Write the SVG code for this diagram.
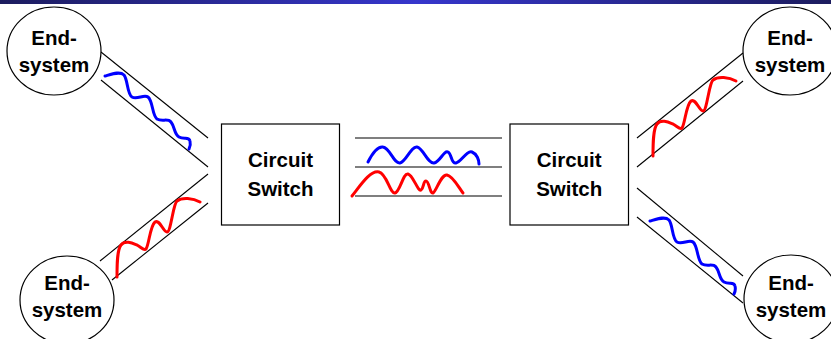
<svg xmlns="http://www.w3.org/2000/svg" width="831" height="339" viewBox="0 0 831 339">
  <defs>
    <linearGradient id="bar" x1="0" y1="0" x2="1" y2="0">
      <stop offset="0" stop-color="#1c1c5e"/>
      <stop offset="0.5" stop-color="#3636cc"/>
      <stop offset="1" stop-color="#1c1c5e"/>
    </linearGradient>
    <!-- signal traces reused on the diagonal links -->
    <path id="wave-blue" d="M105,76 C112,74 120,71 124,75 C128,80 127,94 132,97 C137,100 144,94 148,97 C153,101 152,115 157,119 C162,122 168,118 171,122 C175,127 174,134 179,137 C184,140 189,136 190,141 C191,145 190,147 189,149"/>
    <path id="wave-red" d="M117,277 C117,265 117,250 121,245 C125,240 132,243 137,245 C141,247 144,251 146,249 C149,245 150,226 155,222 C160,219 163,232 167,232 C171,232 173,204 177,201 C182,197 193,198 200,202"/>
  </defs>
  <style>
    .node { fill: #ffffff; stroke: #000000; stroke-width: 1.2; }
    .label { font-family: "Liberation Sans", Arial, sans-serif; font-weight: bold; font-size: 20.5px; fill: #000000; text-anchor: middle; }
    .wire { stroke: #000000; stroke-width: 1.1; fill: none; }
    .sig { fill: none; stroke-width: 3; stroke-linecap: round; stroke-linejoin: round; }
    .blue { stroke: #0000ff; }
    .red { stroke: #ff0000; }
  </style>

  <rect x="0" y="0" width="831" height="4" fill="url(#bar)"/>

  <g id="connectors">
    <!-- left links -->
    <line class="wire" x1="101" y1="52" x2="208" y2="138"/>
    <line class="wire" x1="101" y1="80" x2="208" y2="167"/>
    <line class="wire" x1="208" y1="174" x2="100" y2="261"/>
    <line class="wire" x1="208" y1="203" x2="112" y2="280"/>
    <!-- trunk between switches -->
    <line class="wire" x1="355" y1="138" x2="502" y2="138"/>
    <line class="wire" x1="355" y1="167" x2="502" y2="167"/>
    <line class="wire" x1="355" y1="196" x2="502" y2="196"/>
    <!-- right links -->
    <line class="wire" x1="637" y1="138" x2="743" y2="53"/>
    <line class="wire" x1="637" y1="167" x2="743" y2="81"/>
    <line class="wire" x1="637" y1="188" x2="743" y2="276"/>
    <line class="wire" x1="637" y1="217" x2="743" y2="303"/>
  </g>

  <g id="signals">
    <use href="#wave-blue" class="sig blue"/>
    <use href="#wave-blue" class="sig blue" transform="translate(545,145)"/>
    <use href="#wave-red" class="sig red"/>
    <use href="#wave-red" class="sig red" transform="translate(536,-121)"/>
    <path class="sig blue" d="M368,162 C372,154 377,146 383,147 C390,148 394,164 400,163 C406,162 411,146 417,147 C423,148 428,164 434,163 C440,162 444,150 448,152 C452,154 451,164 456,163 C461,162 467,150 472,152 C477,154 479,160 479,164"/>
    <path class="sig red" d="M352,196 C360,186 370,170 379,172 C387,174 390,194 395,193 C400,192 403,173 408,174 C413,175 418,192 421,190 C424,188 423,181 426,181 C429,181 430,194 433,193 C436,192 441,174 447,175 C453,176 459,188 463,193"/>
  </g>

  <g id="endsystem-top-left">
    <ellipse class="node" cx="54" cy="51" rx="47" ry="44"/>
    <text class="label" x="54" y="45">End-</text>
    <text class="label" x="54" y="72">system</text>
  </g>
  <g id="endsystem-bottom-left">
    <ellipse class="node" cx="67" cy="300" rx="47" ry="44"/>
    <text class="label" x="67" y="289.5">End-</text>
    <text class="label" x="67" y="316.5">system</text>
  </g>
  <g id="endsystem-top-right">
    <ellipse class="node" cx="790" cy="51" rx="47" ry="44"/>
    <text class="label" x="790" y="45">End-</text>
    <text class="label" x="790" y="72">system</text>
  </g>
  <g id="endsystem-bottom-right">
    <ellipse class="node" cx="791" cy="299" rx="47" ry="44"/>
    <text class="label" x="791" y="289.5">End-</text>
    <text class="label" x="791" y="317">system</text>
  </g>

  <g id="switch-left">
    <rect class="node" x="221.5" y="124" width="118" height="101"/>
    <text class="label" x="280.5" y="167">Circuit</text>
    <text class="label" x="280.5" y="195.5">Switch</text>
  </g>
  <g id="switch-right">
    <rect class="node" x="510" y="124" width="118.5" height="101"/>
    <text class="label" x="569.2" y="167">Circuit</text>
    <text class="label" x="569.2" y="195.5">Switch</text>
  </g>
</svg>
